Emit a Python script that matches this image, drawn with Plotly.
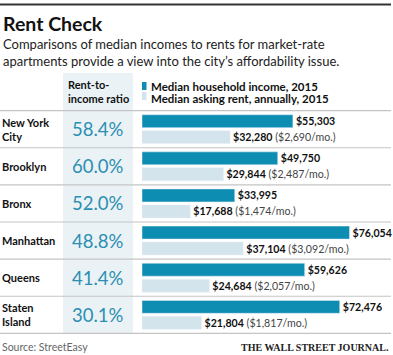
import plotly.graph_objects as go

# ---- data ----
cities = ["New York<br>City", "Brooklyn", "Bronx", "Manhattan", "Queens", "Staten<br>Island"]
ratios = [58.4, 60.0, 52.0, 48.8, 41.4, 30.1]
income = [55303, 49750, 33995, 76054, 59626, 72476]
rent_annual = [32280, 29844, 17688, 37104, 24684, 21804]
rent_monthly = [2690, 2487, 1474, 3092, 2057, 1817]

legend_income = "Median household income, 2015"
legend_rent = "Median asking rent, annually, 2015"
title = "Rent Check"
subtitle = "Comparisons of median incomes to rents for market-rate<br>apartments provide a view into the city\u2019s affordability issue."
ratio_header = "Rent-to-<br>income ratio"
source = "Source: StreetEasy"
brand = "THE WALL STREET JOURNAL."

# ---- style ----
W, H = 393, 355
TEAL = "#0e8db3"
LIGHT = "#d4e4ec"
COLBG = "#eaf2f6"
RATIO_C = "#2b8fb2"
FONT = "Lato"

def px(x):
    return x / W

def py(y):
    return 1 - y / H

fig = go.Figure()

fig.add_trace(go.Bar(
    y=cities, x=income, orientation="h", marker_color=TEAL, name=legend_income,
    text=[f"<b>${v:,}</b>" for v in income], textposition="outside",
    textfont=dict(family=FONT, size=10.6, color="#111"), constraintext="none",
    cliponaxis=False, showlegend=False,
))
fig.add_trace(go.Bar(
    y=cities, x=rent_annual, orientation="h", marker_color=LIGHT, name=legend_rent,
    text=[f"<b>${a:,}</b> <span style='color:#444'>(${m:,}/mo.)</span>" for a, m in zip(rent_annual, rent_monthly)],
    textposition="outside",
    textfont=dict(family=FONT, size=10.6, color="#111"), constraintext="none",
    cliponaxis=False, showlegend=False,
))

row_top, row_bot = 110, 334
fig.update_layout(
    width=W, height=H, margin=dict(l=0, r=0, t=0, b=0),
    paper_bgcolor="white", plot_bgcolor="rgba(0,0,0,0)",
    barmode="group", bargap=0.14, bargroupgap=0.19,
    xaxis=dict(domain=[px(142), 1], range=[0, 92000], visible=False, fixedrange=True),
    yaxis=dict(domain=[py(row_bot), py(row_top)], categoryorder="array", categoryarray=cities,
               autorange="reversed", visible=False, fixedrange=True),
    font=dict(family=FONT),
)

shapes = []
shapes.append(dict(type="rect", xref="paper", yref="paper", x0=px(63), x1=px(133),
                   y0=py(334), y1=py(73), fillcolor=COLBG, line_width=0, layer="below"))
shapes.append(dict(type="line", xref="paper", yref="paper", x0=0, x1=px(391),
                   y0=py(4.5), y1=py(4.5), line=dict(color="#333", width=2)))
for i in range(len(cities) + 1):
    shapes.append(dict(type="line", xref="paper", yref="y", x0=0, x1=px(391),
                       y0=i - 0.5, y1=i - 0.5, line=dict(color="#c4c4c4", width=1.2)))
shapes.append(dict(type="rect", xref="paper", yref="paper", x0=px(142), x1=px(146.5),
                   y0=py(90), y1=py(82), fillcolor=TEAL, line_width=0))
shapes.append(dict(type="rect", xref="paper", yref="paper", x0=px(142), x1=px(146.5),
                   y0=py(100), y1=py(92), fillcolor=LIGHT, line_width=0))
fig.update_layout(shapes=shapes)

ann = []
ann.append(dict(text=f"<b>{title}</b>", x=px(1), y=py(10), xref="paper", yref="paper",
                xanchor="left", yanchor="top", showarrow=False,
                font=dict(family=FONT, size=19.5, color="#111")))
ann.append(dict(text=subtitle, x=px(1), y=py(34), xref="paper", yref="paper",
                xanchor="left", yanchor="top", showarrow=False, align="left",
                font=dict(family=FONT, size=13, color="#222")))
ann.append(dict(text=f"<b>{ratio_header}</b>", x=px(66), y=py(76), xref="paper", yref="paper",
                xanchor="left", yanchor="top", showarrow=False, align="left",
                font=dict(family=FONT, size=11, color="#111")))
ann.append(dict(text=f"<b>{legend_income}</b>", x=px(149), y=py(86), xref="paper", yref="paper",
                xanchor="left", yanchor="middle", showarrow=False,
                font=dict(family=FONT, size=11.5, color="#111")))
ann.append(dict(text=f"<b>{legend_rent}</b>", x=px(149), y=py(98.5), xref="paper", yref="paper",
                xanchor="left", yanchor="middle", showarrow=False,
                font=dict(family=FONT, size=11.5, color="#111")))
for c, r in zip(cities, ratios):
    ann.append(dict(text=f"<b>{c}</b>", x=px(0), y=c, xref="paper", yref="y",
                    xanchor="left", yanchor="middle", showarrow=False, align="left",
                    font=dict(family=FONT, size=11, color="#111")))
    ann.append(dict(text=f"{r:.1f}%", x=px(98), y=c, xref="paper", yref="y",
                    xanchor="center", yanchor="middle", showarrow=False,
                    font=dict(family=FONT, size=18.5, color=RATIO_C)))
ann.append(dict(text=source, x=px(0), y=py(347), xref="paper", yref="paper",
                xanchor="left", yanchor="middle", showarrow=False,
                font=dict(family=FONT, size=10.5, color="#666")))
ann.append(dict(text=f"<b>{brand}</b>", x=px(391), y=py(347), xref="paper", yref="paper",
                xanchor="right", yanchor="middle", showarrow=False,
                font=dict(family="Liberation Serif", size=10, color="#222")))
fig.update_layout(annotations=ann)

fig.write_html("out.html", config={"displayModeBar": False},
               post_script="document.body.style.margin='0';document.body.style.overflow='hidden';")
